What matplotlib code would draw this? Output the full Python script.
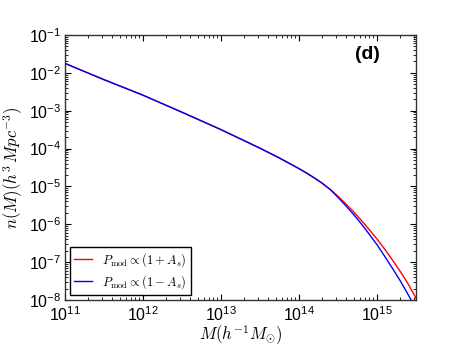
import numpy as np
import matplotlib
matplotlib.use("Agg")
import matplotlib.pyplot as plt
from matplotlib.ticker import LogLocator, FuncFormatter

# log10(M) and log10(n)
logM_common = [11.0, 11.5, 12.0, 12.5, 13.0, 13.5, 13.75, 14.0, 14.1, 14.2, 14.3, 14.4]
logn_common = [-1.75, -2.18, -2.59, -3.04, -3.50, -3.99, -4.25, -4.53, -4.65, -4.78, -4.92, -5.08]

logM_plus = [14.5, 14.6, 14.7, 14.8, 14.9, 15.0, 15.1, 15.2, 15.3, 15.4, 15.5]
logn_plus = [-5.26, -5.46, -5.67, -5.90, -6.14, -6.39, -6.66, -6.95, -7.25, -7.58, -7.95]

logM_minus = [14.5, 14.6, 14.7, 14.8, 14.9, 15.0, 15.1, 15.2, 15.3, 15.4, 15.45]
logn_minus = [-5.29, -5.51, -5.74, -5.99, -6.26, -6.54, -6.85, -7.17, -7.50, -7.86, -8.05]

label_plus = r"$P_{\rm mod}\propto(1+A_s)$"
label_minus = r"$P_{\rm mod}\propto(1-A_s)$"

plt.rcParams["mathtext.fontset"] = "custom"
plt.rcParams["mathtext.rm"] = "Liberation Sans"
plt.rcParams["mathtext.it"] = "Liberation Sans:italic"
plt.rcParams["mathtext.bf"] = "Liberation Sans:bold"
plt.rcParams["font.family"] = ["Liberation Sans", "DejaVu Sans"]

fig = plt.figure(figsize=(4.63, 3.48), dpi=100)
ax = fig.add_axes([65/463, 48/348, 351/463, 265/348])

xp = 10**np.array(logM_common + logM_plus)
yp = 10**np.array(logn_common + logn_plus)
xm = 10**np.array(logM_common + logM_minus)
ym = 10**np.array(logn_common + logn_minus)

ax.plot(xp, yp, color="red", lw=1.0, label=label_plus)
ax.plot(xm, ym, color="blue", lw=1.0, label=label_minus)

ax.set_xscale("log")
ax.set_yscale("log")
ax.set_xlim(1e11, 10**15.5)
ax.set_ylim(1e-8, 1e-1)

ax.xaxis.set_major_locator(LogLocator(base=10, numticks=20))
ax.yaxis.set_major_locator(LogLocator(base=10, numticks=20))
ax.xaxis.set_minor_locator(LogLocator(base=10, subs=np.arange(2, 10), numticks=50))
ax.yaxis.set_minor_locator(LogLocator(base=10, subs=np.arange(2, 10), numticks=50))

fmt = FuncFormatter(lambda v, p: r"$\mathregular{10^{%d}}$" % int(round(np.log10(v))))
ax.xaxis.set_major_formatter(fmt)
ax.yaxis.set_major_formatter(fmt)

ax.tick_params(which="both", direction="in", top=True, right=True, labelsize=11.5)
ax.tick_params(which="major", length=4, width=0.8)
ax.tick_params(which="minor", length=2, width=0.6)
ax.tick_params(axis="x", pad=4)
ax.tick_params(axis="y", pad=3)
for s in ax.spines.values():
    s.set_linewidth(1.0)
    s.set_color("#333333")

ax.set_xlabel(r"$M(h^{-1}M_{\odot})$", fontsize=12, math_fontfamily="cm")
ax.set_ylabel(r"$n(M)(h^3\,Mpc^{-3})$", fontsize=12, math_fontfamily="cm")
ax.xaxis.set_label_coords(0.5, -0.09)
ax.yaxis.set_label_coords(-0.113, 0.5)

leg = ax.legend(loc="lower left", fontsize=9, handlelength=1.4, fancybox=False,
                borderaxespad=0.4, framealpha=1, labelspacing=0.3, borderpad=0.35)
leg.get_frame().set_edgecolor("black")
for t in leg.get_texts():
    t.set_math_fontfamily("cm")

ax.text(0.863, 0.925, "(d)", transform=ax.transAxes, fontsize=14, fontweight="bold",
        ha="center", va="center", family="Liberation Sans")

fig.savefig("out.png", dpi=100)
